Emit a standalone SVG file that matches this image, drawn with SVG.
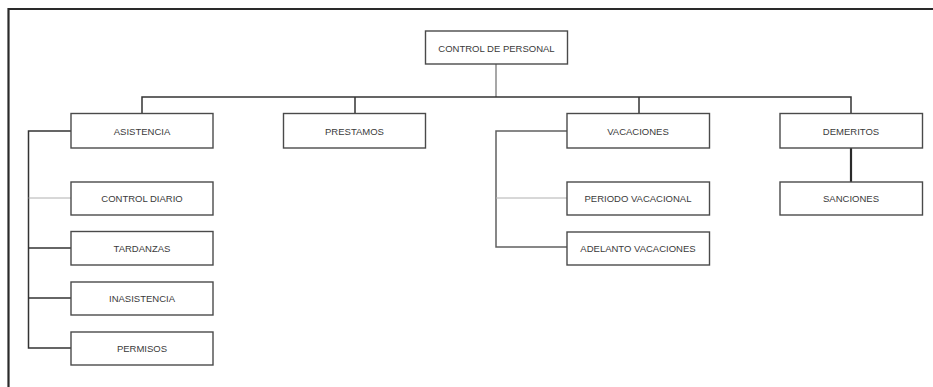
<svg xmlns="http://www.w3.org/2000/svg" width="933" height="387" viewBox="0 0 933 387">
<style>
.box{fill:#fff;stroke:#4a4a4a;stroke-width:1.4}
.lbl{font-family:"Liberation Sans","Open Sans",sans-serif;font-size:9.5px;fill:#3a3a3a;text-anchor:middle;dominant-baseline:central}
.c{fill:none;stroke:#333;stroke-width:1.5}
.g{fill:none;stroke:#8a8a8a;stroke-width:1.5}
.m{fill:none;stroke:#606060;stroke-width:1.5}
.l{fill:none;stroke:#b0b0b0;stroke-width:1}
</style>
<rect width="933" height="387" fill="#fff"/>
<path d="M8.5,387 V9 H933" fill="none" stroke="#2a2a2a" stroke-width="2.2"/>
<g id="connectors">
<path class="g" d="M496,64 V97"/>
<path class="c" d="M142,114 V97 H851 V114"/>
<path class="c" d="M355,97 V113"/>
<path class="c" d="M639,97 V113"/>
<path class="c" d="M71,131 H28.5 V348 H71"/>
<path class="l" d="M28.5,198 H71"/>
<path class="c" d="M28.5,248 H71"/>
<path class="c" d="M28.5,298 H71"/>
<path class="m" d="M567,131 H496 V247 H567"/>
<path class="l" d="M496,198 H567"/>
<path d="M851,148 V182" fill="none" stroke="#2a2a2a" stroke-width="2.2"/>
</g>
<g id="control-de-personal"><rect class="box" x="425.5" y="31" width="142" height="33" stroke="#777"/><text class="lbl" x="496.5" y="48">CONTROL DE PERSONAL</text></g>
<g id="asistencia"><rect class="box" x="71" y="113.5" width="142" height="34.5"/><text class="lbl" x="142" y="131">ASISTENCIA</text></g>
<g id="prestamos"><rect class="box" x="283.5" y="113.5" width="142" height="34.5"/><text class="lbl" x="354.5" y="131">PRESTAMOS</text></g>
<g id="vacaciones"><rect class="box" x="567" y="113.5" width="142.5" height="34.5"/><text class="lbl" x="638" y="131">VACACIONES</text></g>
<g id="demeritos"><rect class="box" x="780" y="113.5" width="142.5" height="34.5"/><text class="lbl" x="851" y="131">DEMERITOS</text></g>
<g id="control-diario"><rect class="box" x="71" y="182" width="142" height="33"/><text class="lbl" x="142" y="198.5">CONTROL DIARIO</text></g>
<g id="tardanzas"><rect class="box" x="71" y="231.5" width="142" height="33.5"/><text class="lbl" x="142" y="248">TARDANZAS</text></g>
<g id="inasistencia"><rect class="box" x="71" y="282" width="142" height="33"/><text class="lbl" x="142" y="298.5">INASISTENCIA</text></g>
<g id="permisos"><rect class="box" x="71" y="332" width="142" height="33"/><text class="lbl" x="142" y="348.5">PERMISOS</text></g>
<g id="periodo-vacacional"><rect class="box" x="567" y="182" width="142.5" height="33"/><text class="lbl" x="638" y="198.5">PERIODO VACACIONAL</text></g>
<g id="adelanto-vacaciones"><rect class="box" x="567" y="232" width="142.5" height="33"/><text class="lbl" x="638" y="248.5">ADELANTO VACACIONES</text></g>
<g id="sanciones"><rect class="box" x="780" y="182" width="142.5" height="33"/><text class="lbl" x="851" y="198.5">SANCIONES</text></g>
</svg>
